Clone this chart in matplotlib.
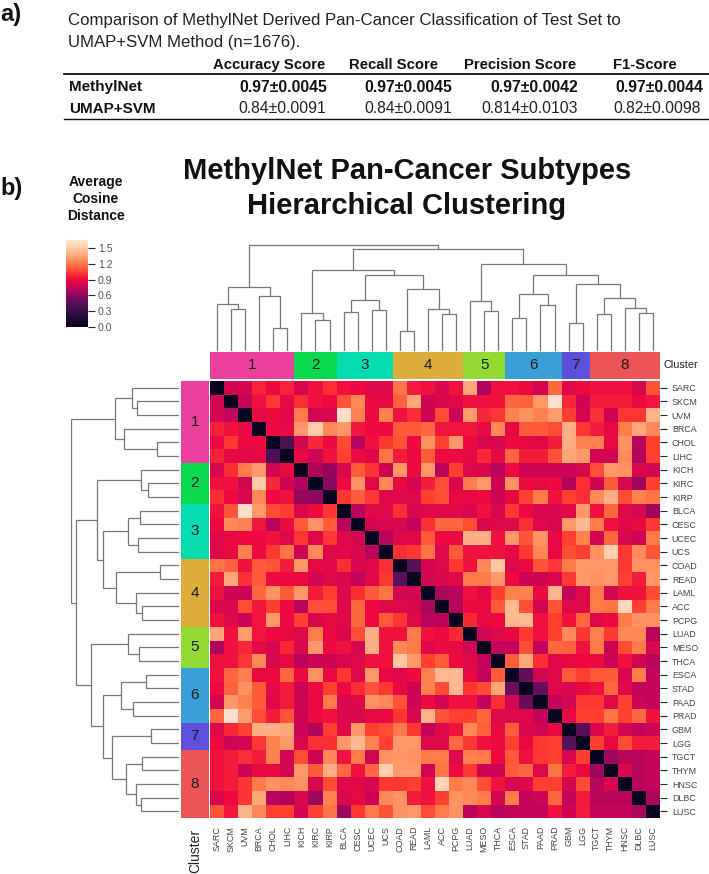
import matplotlib
matplotlib.use("Agg")
import matplotlib.pyplot as plt
from matplotlib.lines import Line2D
from matplotlib.colors import Normalize, LinearSegmentedColormap
from matplotlib.cm import ScalarMappable
from matplotlib.ticker import FormatStrFormatter
import numpy as np

plt.rcParams['font.family'] = ['Liberation Sans', 'DejaVu Sans']

W, H = 709, 874

labels = ["SARC","SKCM","UVM","BRCA","CHOL","LIHC","KICH","KIRC","KIRP","BLCA","CESC","UCEC","UCS",
          "COAD","READ","LAML","ACC","PCPG","LUAD","MESO","THCA","ESCA","STAD","PAAD","PRAD","GBM",
          "LGG","TGCT","THYM","HNSC","DLBC","LUSC"]

# upper triangle of the distance matrix, one list per row (starting right after the diagonal)
row_00 = [.80,.80,.97,.90,.97,.82,.92,1.0,.92,.90,.85,.85,1.18,.95,.92,.82,.92,1.35,.70,.92,.92,.90,.80,1.15,.85,.90,.92,.92,.92,.82,1.10]
row_01 = [.75,.92,1.03,.87,1.0,.92,.90,1.10,1.25,.88,.88,1.13,1.35,.78,.82,.85,.92,.92,.92,1.15,1.13,1.30,1.62,.98,.78,.95,.95,.95,.90,.93]
row_02 = [.87,.90,.85,1.20,.80,.82,1.60,1.22,.90,1.22,.92,1.0,.78,1.08,.78,1.32,.98,1.02,1.22,1.28,1.22,1.32,1.05,.80,1.0,.78,1.02,1.02,1.40]
row_03 = [.90,.88,1.30,1.50,1.25,1.30,.93,.90,.90,1.12,1.12,1.15,.93,.93,.93,.87,1.25,.88,1.12,1.12,1.08,1.38,1.02,.95,.88,1.20,1.35,1.25]
row_04 = [.40,.80,.98,.90,1.08,.72,.92,1.03,1.10,.90,1.28,1.05,1.30,.90,.82,.82,.90,.88,.85,.95,1.38,1.22,1.22,.88,1.28,.72,1.05]
row_05 = [.88,.78,.92,1.05,.90,.85,1.18,.95,.90,1.12,.90,.90,.88,.98,.88,1.15,.95,.95,1.10,1.35,1.30,.80,.80,1.25,.70,1.05]
row_06 = [.70,.62,.82,1.12,1.02,.78,1.30,.90,1.30,.72,1.05,.85,.82,.72,.90,.78,.78,.78,.78,.82,1.08,1.30,1.28,.82,.80]
row_07 = [.60,.90,1.28,.85,1.25,.88,.80,.95,1.08,.82,1.20,1.30,.78,1.28,.90,.88,.90,.70,1.0,.78,1.12,.82,.65,1.05]
row_08 = [1.03,1.12,1.03,.85,.85,.85,1.05,1.08,.88,.88,.90,.78,.88,1.05,1.20,.92,1.05,1.0,1.25,1.38,1.08,1.22,1.18]
row_09 = [.72,.85,.85,1.0,.82,.85,.85,.85,.82,.92,.82,1.03,.90,.82,.82,.85,1.30,.92,1.15,.85,.82,.65]
row_10 = [.80,.82,.82,.75,1.0,1.15,1.15,1.08,.82,.85,.85,1.0,.85,.82,1.30,1.42,1.20,.92,.85,.88,1.03]
row_11 = [.72,.85,.85,1.12,.90,.90,1.38,1.38,.92,1.30,1.10,1.28,.88,1.05,1.22,.80,1.15,.82,.78,1.20]
row_12 = [1.0,1.03,1.18,.85,1.12,.92,.92,.92,.88,1.03,1.25,.88,1.08,1.05,1.28,1.52,1.03,1.25,1.10]
row_13 = [.45,.80,.85,1.02,.92,1.25,1.48,.85,.88,1.10,1.02,1.20,1.30,1.30,1.30,1.03,1.28,1.28]
row_14 = [.80,.82,.85,1.20,1.20,1.30,.90,.78,.78,.82,1.03,1.30,1.28,1.30,1.05,.95,1.30]
row_15 = [.68,.72,.92,.85,1.05,1.22,1.22,.90,1.40,.75,.85,1.20,.80,.92,.92,1.08]
row_16 = [.72,.90,.90,1.12,1.42,1.08,.80,1.10,.85,.85,1.20,1.18,1.55,1.05,1.20]
row_17 = [.98,.88,.90,1.42,1.42,.92,1.05,.92,1.15,.85,.90,1.20,1.28,1.28]
row_18 = [.80,.85,.88,1.03,.92,1.05,1.25,1.03,1.22,1.03,1.25,1.25,.72]
row_19 = [.75,.75,1.08,.75,1.15,1.13,.92,1.20,.78,1.08,1.20,.82]
row_20 = [1.12,1.35,1.0,.85,.88,.90,.90,.78,.92,.80,.72]
row_21 = [.50,.80,.85,1.12,1.05,1.12,1.12,.82,1.20,.75]
row_22 = [.50,.85,.82,.88,.92,1.15,.85,.75,.75]
row_23 = [.75,.80,1.03,1.03,.85,1.05,.78,.75]
row_24 = [.88,1.05,1.05,1.18,1.05,1.15,.92]
row_25 = [.45,.82,.95,.80,.75,.78]
row_26 = [1.05,.88,1.08,.95,.95]
row_27 = [.65,.72,.72,.75]
row_28 = [.82,.72,.75]
row_29 = [.72,.75]
row_30 = [.68]
rows = [row_00,row_01,row_02,row_03,row_04,row_05,row_06,row_07,row_08,row_09,row_10,row_11,row_12,
        row_13,row_14,row_15,row_16,row_17,row_18,row_19,row_20,row_21,row_22,row_23,row_24,row_25,
        row_26,row_27,row_28,row_29,row_30]

# cluster sizes, names and colours
cluster_sizes = [6,3,4,5,3,4,2,5]
cluster_names = ["1","2","3","4","5","6","7","8"]
cluster_colors = ["#EC409E","#0BD94E","#05DDB0","#DDAD3C","#93DA33","#3A9FD6","#5E4FDC","#EB5555"]

# dendrogram: (merge height, child, child)
c1 = (63.3, (46.3,"SARC",(41.3,"SKCM","UVM")), (54.3,"BRCA",(22.3,"CHOL","LIHC")))
c2 = (38.0, "KICH", (30.7,"KIRC","KIRP"))
c3 = (50.3, (39.0,"BLCA","CESC"), (40.3,"UCEC","UCS"))
c4 = (62.0, (19.3,"COAD","READ"), (42.0,"LAML",(36.3,"ACC","PCPG")))
c5 = (50.0, "LUAD", (40.0,"MESO","THCA"))
c6 = (57.0, (32.3,"ESCA","STAD"), (45.3,"PAAD","PRAD"))
c7 = (27.3, "GBM", "LGG")
c8 = (52.3, (37.0,"TGCT","THYM"), (42.3,"HNSC",(38.0,"DLBC","LUSC")))
c78 = (66.3, c7, c8)
c678 = (75.3, c6, c78)
c5678 = (86.7, c5, c678)
c34 = (75.3, c3, c4)
c234 = (80.7, c2, c34)
c2_8 = (101.3, c234, c5678)
tree = (106.0, c1, c2_8)

# table
table_title = ["Comparison of MethylNet Derived Pan-Cancer Classification of Test Set to",
               "UMAP+SVM Method (n=1676)."]
table_headers = ["Accuracy Score","Recall Score","Precision Score","F1-Score"]
methylnet_scores = ["0.97±0.0045","0.97±0.0045","0.97±0.0042","0.97±0.0044"]
umap_scores = ["0.84±0.0091","0.84±0.0091","0.814±0.0103","0.82±0.0098"]
cbar_ticks = [0.0,0.3,0.6,0.9,1.2,1.5]
VMAX = 1.65

n = len(labels)
M = np.zeros((n,n))
for i,r in enumerate(rows):
    for j,v in enumerate(r):
        M[i,i+1+j] = v
        M[i+1+j,i] = v

# saturated rocket-like map as it appears in the picture
stops = [0.0,.30,.45,.60,.75,.90,1.05,1.20,1.35,1.50,1.65]
stop_colors = ["#0A0320","#361048","#58105A","#8A085E","#C4045A","#EE0A40","#FF4030",
               "#FF7A48","#FFA578","#FFCBA8","#FDE6D6"]
cmap = LinearSegmentedColormap.from_list("rocket_sat",[(s/VMAX,c) for s,c in zip(stops,stop_colors)],N=256)
fig = plt.figure(figsize=(W/100,H/100), dpi=100)

def axpx(x0,y0,x1,y1):
    return fig.add_axes([x0/W,1-y1/H,(x1-x0)/W,(y1-y0)/H])
def tpx(x,y,s,**k):
    k.setdefault('ha','left'); k.setdefault('va','center')
    return fig.text(x/W,1-y/H,s,**k)
def hline(x0,x1,y,lw):
    fig.add_artist(Line2D([x0/W,x1/W],[1-y/H,1-y/H],color='#111111',lw=lw))

# heatmap
HX0,HX1,HY0,HY1 = 210,660,381,818.3
ax = axpx(HX0,HY0,HX1,HY1)
ax.pcolormesh(np.arange(n+1),np.arange(n+1),M,cmap=cmap,vmin=0,vmax=VMAX)
ax.set_xlim(0,n); ax.set_ylim(n,0)
for s in ax.spines.values(): s.set_visible(False)
ax.xaxis.set_ticks_position('bottom')
ax.set_xticks(np.arange(n)+.5, labels, rotation=90, fontsize=6.4, color='#444444')
ax.yaxis.tick_right()
ax.set_yticks(np.arange(n)+.5, labels, fontsize=6.4, color='#444444')
ax.tick_params(axis='x',length=0,pad=5.5)
ax.tick_params(axis='y',length=5,width=.8,color='#222222',pad=3.5)

# colour strips
edges = np.concatenate([[0],np.cumsum(cluster_sizes)])
top = axpx(HX0,351.7,HX1,378.7)
lft = axpx(180.7,HY0,209,HY1)
for i,c in enumerate(cluster_colors):
    top.axvspan(edges[i],edges[i+1],color=c,lw=0)
    lft.axhspan(edges[i],edges[i+1],color=c,lw=0)
    m=(edges[i]+edges[i+1])/2
    top.text(m,.5,cluster_names[i],ha='center',va='center',fontsize=11,color='#1a1a1a',transform=top.get_xaxis_transform())
    lft.text(.5,m,cluster_names[i],ha='center',va='center',fontsize=11,color='#1a1a1a',transform=lft.get_yaxis_transform())
top.set_xlim(0,n); top.axis('off')
lft.set_ylim(n,0); lft.axis('off')

# dendrograms
idx = {l:i+.5 for i,l in enumerate(labels)}
def walk(node,segs):
    if isinstance(node,str):
        return idx[node],0.0
    h,a,b = node
    pa,ha = walk(a,segs); pb,hb = walk(b,segs)
    segs.append(([pa,pa,pb,pb],[ha,h,h,hb]))
    return (pa+pb)/2,h
segs=[]; walk(tree,segs)
dc='#777777'
dtop = axpx(HX0,244.0,HX1,350.7)
dlft = axpx(70.7,HY0,179.3,HY1)
for p,h in segs:
    dtop.plot(p,h,color=dc,lw=.9,solid_joinstyle='miter')
    dlft.plot(h,p,color=dc,lw=.9,solid_joinstyle='miter')
dtop.set_xlim(0,n); dtop.set_ylim(0,106.5); dtop.axis('off')
dlft.set_ylim(n,0); dlft.set_xlim(106.5,0); dlft.axis('off')

tpx(663,365,"Cluster",fontsize=7.8,color='#222222')
tpx(195,851,"Cluster",fontsize=10,color='#222222',rotation=90,ha='center')

# colour bar
cax = axpx(66,240,88,327)
cb = fig.colorbar(ScalarMappable(Normalize(0,VMAX),cmap),cax=cax,ticks=cbar_ticks)
cb.outline.set_visible(False)
cb.ax.tick_params(length=5,width=.8,labelsize=7.6,labelcolor='#555555',color='#222222',pad=2)
cb.ax.yaxis.set_major_formatter(FormatStrFormatter('%.1f'))

for y,s in zip([182,199,216],["Average","Cosine","Distance"]):
    tpx(95.5,y,s,fontsize=10,fontweight='bold',ha='center',color='#111111')

tpx(407,171,"MethylNet Pan-Cancer Subtypes",fontsize=21,fontweight='bold',ha='center',color='#111111')
tpx(407,205.5,"Hierarchical Clustering",fontsize=21,fontweight='bold',ha='center',color='#111111')
tpx(0,15,"a)",fontsize=17,fontweight='bold',color='#111111')
tpx(0,189,"b)",fontsize=17,fontweight='bold',color='#111111')

# table
tpx(68,21,table_title[0],fontsize=12.1,color='#222222')
tpx(68,43,table_title[1],fontsize=12.1,color='#222222')
for x,s in zip([212.7,349,464,613],table_headers):
    tpx(x,65.3,s,fontsize=10.7,fontweight='bold',color='#111111')
hline(64,709,74.3,1.3)
hline(64,709,118.5,1.0)
tpx(69,87,"MethylNet",fontsize=11,fontweight='bold',color='#111111')
tpx(69,108.7,"UMAP+SVM",fontsize=11,fontweight='bold',color='#111111')
for x,x2,a,b in zip([327.3,452.3,578,703.3],[326,452,578,700.7],methylnet_scores,umap_scores):
    tpx(x,87,a,fontsize=11.3,fontweight='bold',ha='right',color='#111111')
    tpx(x2,108.7,b,fontsize=11.3,ha='right',color='#222222')

fig.savefig("out.png",dpi=100)
